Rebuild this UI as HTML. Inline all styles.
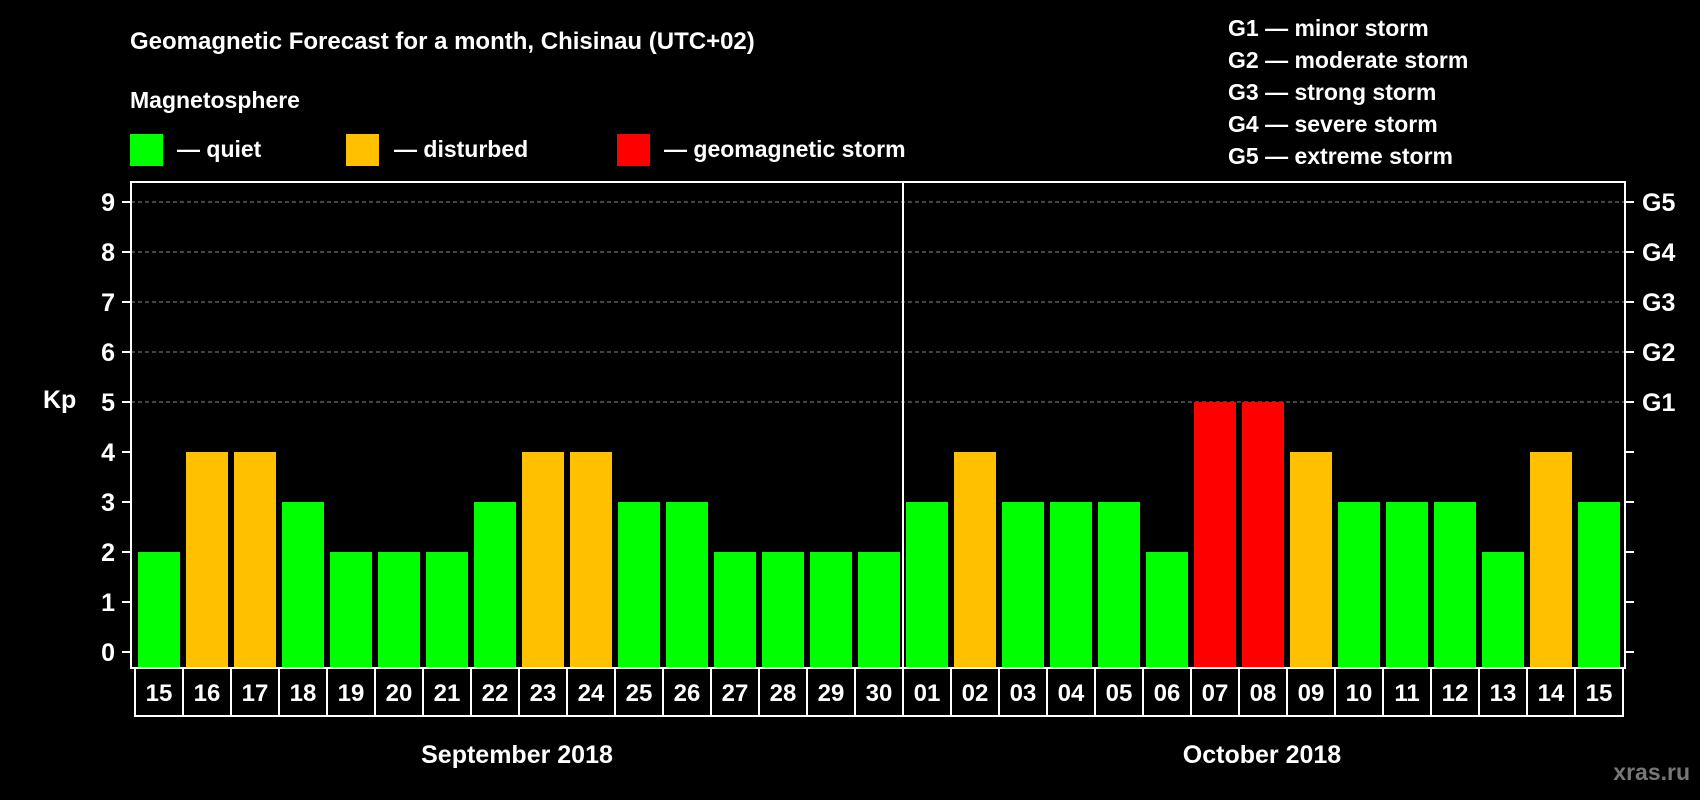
<!DOCTYPE html>
<html><head><meta charset="utf-8"><style>
body{margin:0;background:#000;}
svg{display:block;font-family:"Liberation Sans",Arial,sans-serif;font-weight:bold;}
</style></head><body>
<svg id="chart" width="1700" height="800" viewBox="0 0 1700 800">
<rect width="1700" height="800" fill="#000"/>
<text x="130" y="49" fill="#fff" font-size="24">Geomagnetic Forecast for a month, Chisinau (UTC+02)</text>
<text x="130" y="108" fill="#fff" font-size="23">Magnetosphere</text>
<rect x="130" y="134" width="33" height="32" fill="#00ff00"/>
<text x="177" y="157" fill="#fff" font-size="23">— quiet</text>
<rect x="346" y="134" width="33" height="32" fill="#ffc000"/>
<text x="394" y="157" fill="#fff" font-size="23">— disturbed</text>
<rect x="617" y="134" width="33" height="32" fill="#ff0000"/>
<text x="664" y="157" fill="#fff" font-size="23">— geomagnetic storm</text>
<g fill="#fff" font-size="23">
<text x="1228" y="36">G1 — minor storm</text>
<text x="1228" y="68">G2 — moderate storm</text>
<text x="1228" y="100">G3 — strong storm</text>
<text x="1228" y="132">G4 — severe storm</text>
<text x="1228" y="164">G5 — extreme storm</text>
</g>
<text x="43" y="408" fill="#fff" font-size="25">Kp</text>
<g id="grid"></g><g id="bars"></g><g id="axes"></g>
<text x="517" y="763" fill="#fff" font-size="25" text-anchor="middle">September 2018</text>
<text x="1262" y="763" fill="#fff" font-size="25" text-anchor="middle">October 2018</text>
<text x="1690" y="780" fill="#777" font-size="23" text-anchor="end">xras.ru</text>
</svg>
<script>
const days=["15","16","17","18","19","20","21","22","23","24","25","26","27","28","29","30","01","02","03","04","05","06","07","08","09","10","11","12","13","14","15"];
const kp=[2,4,4,3,2,2,2,3,4,4,3,3,2,2,2,2,3,4,3,3,3,2,5,5,4,3,3,3,2,4,3];
const yTicks=[0,1,2,3,4,5,6,7,8,9];
const gLabels=["","","","","","G1","G2","G3","G4","G5"];
const NS="http://www.w3.org/2000/svg";
const L=131,R=1625,T=182,B=668,X0=135,STEP=48,BW=42;
const y=v=>652-v*50;
const x=i=>X0+i*STEP;
function mk(tag,attrs,parent){const e=document.createElementNS(NS,tag);for(const k in attrs)e.setAttribute(k,attrs[k]);parent.appendChild(e);return e;}
const grid=document.getElementById('grid'),bars=document.getElementById('bars'),axes=document.getElementById('axes');
yTicks.forEach(v=>{if(v>=5){const g=mk('line',{x1:L,x2:R,y1:y(v),y2:y(v),stroke:'#888','stroke-dasharray':'4,3','stroke-width':1},grid);

}
const t=mk('line',{x1:122,x2:L,y1:y(v),y2:y(v),stroke:'#fff','stroke-width':2},axes);


const lb=mk('text',{x:115,y:y(v)+9,fill:'#fff','font-size':25,'text-anchor':'end'},axes);lb.textContent=v;


const rt=mk('line',{x1:R,x2:R+9,y1:y(v),y2:y(v),stroke:'#fff','stroke-width':2},axes);


if(gLabels[v]){const gl=mk('text',{x:1642,y:y(v)+9,fill:'#fff','font-size':25},axes);gl.textContent=gLabels[v];

}
});
kp.forEach((v,i)=>{const c=v>=5?'#ff0000':v>=4?'#ffc000':'#00ff00';
const r=mk('rect',{x:x(i)+3,y:y(v),width:BW,height:B-y(v),fill:c},bars);


const bx=mk('rect',{x:x(i),y:B,width:STEP,height:48,fill:'none',stroke:'#fff','stroke-width':2},axes);


const dt=mk('text',{x:x(i)+STEP/2,y:B+33,fill:'#fff','font-size':24,'text-anchor':'middle'},axes);dt.textContent=days[i];


});
const fr=mk('rect',{x:L,y:T,width:R-L,height:B-T,fill:'none',stroke:'#fff','stroke-width':2},axes);


const sep=mk('line',{x1:x(16),x2:x(16),y1:T,y2:B+48,stroke:'#fff','stroke-width':2},axes);


</script>
</body></html>
